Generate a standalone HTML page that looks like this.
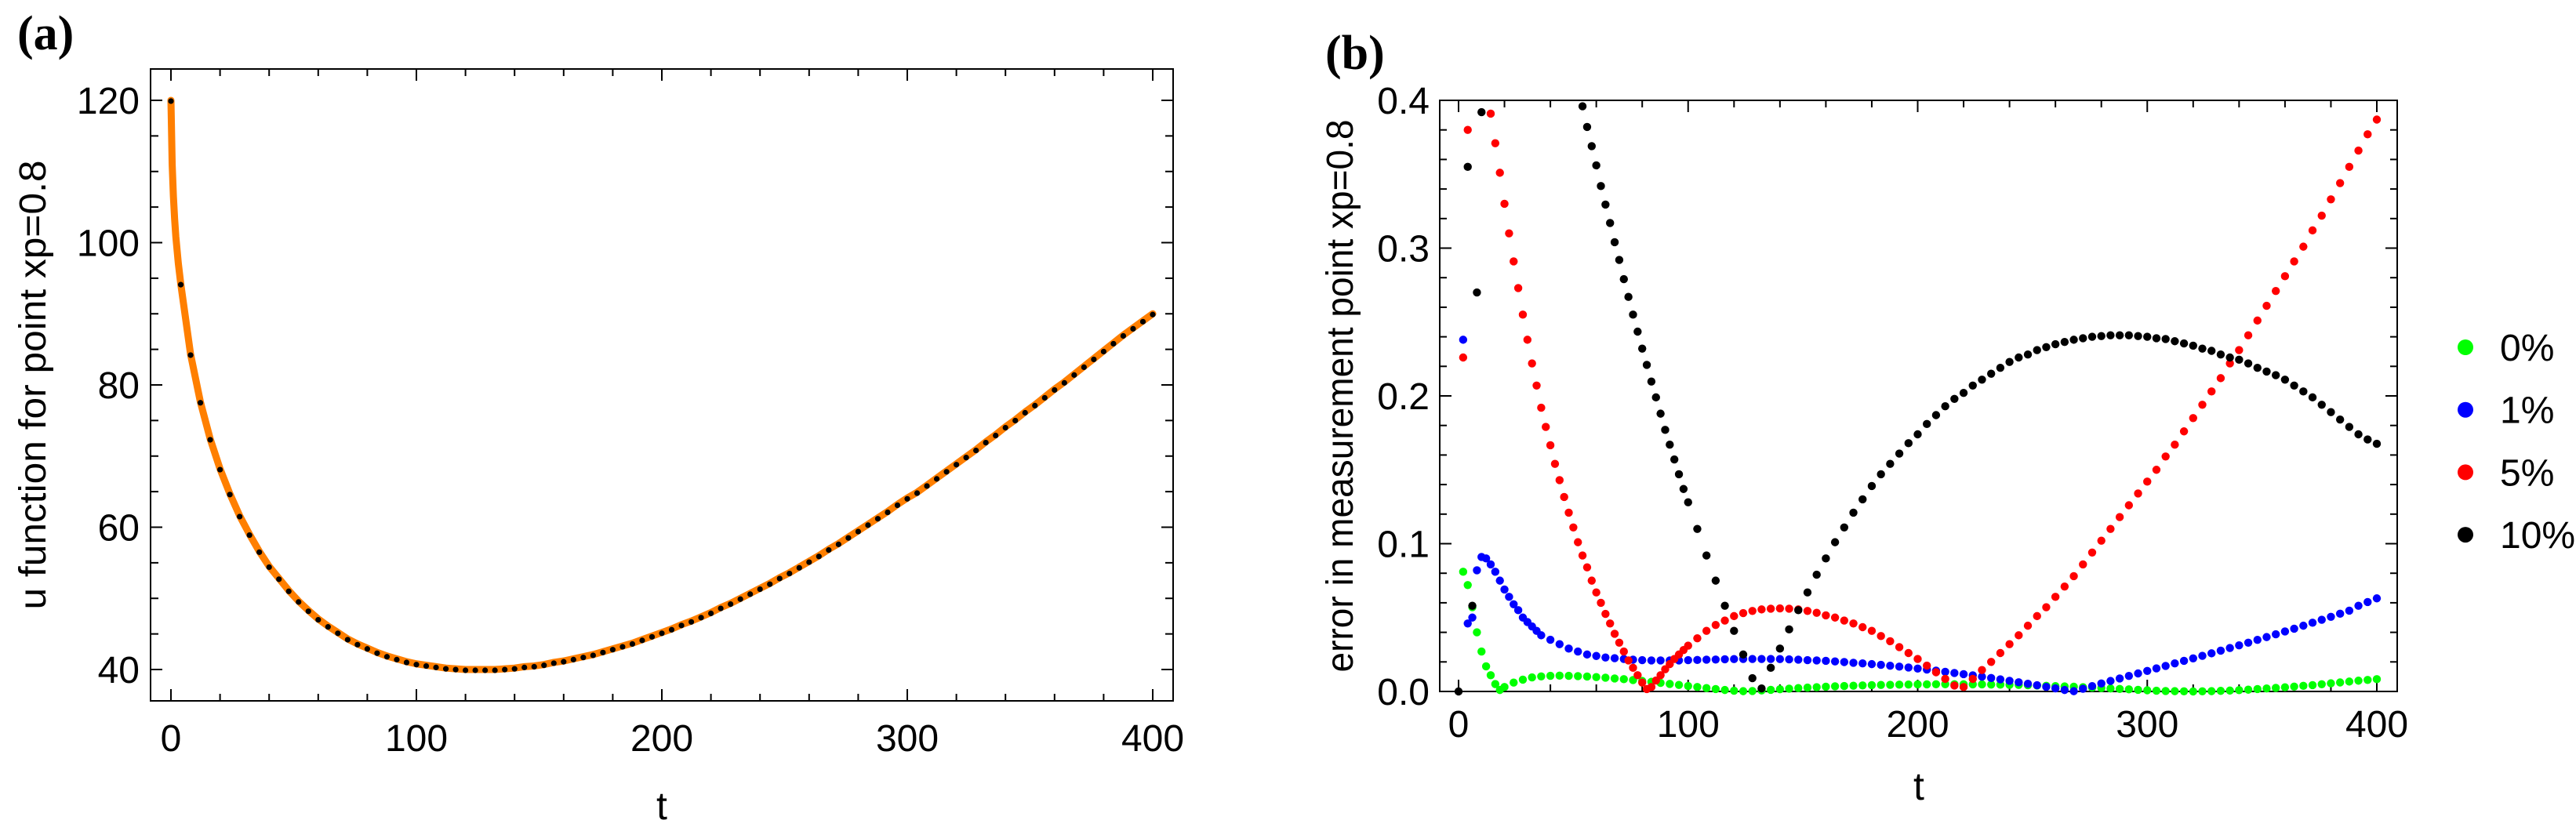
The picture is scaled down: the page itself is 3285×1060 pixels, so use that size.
<!DOCTYPE html>
<html><head><meta charset="utf-8">
<style>
html,body{margin:0;padding:0;background:#fff;}
svg{display:block;font-family:"Liberation Sans",sans-serif;}
</style></head>
<body>
<svg id="fig" width="3285" height="1060" viewBox="0 0 3285 1060" xmlns="http://www.w3.org/2000/svg">
<rect width="3285" height="1060" fill="#fff"/>
<text x="22" y="63" font-family="Liberation Serif, serif" font-weight="bold" font-size="62">(a)</text>
<text x="1690" y="88" font-family="Liberation Serif, serif" font-weight="bold" font-size="62">(b)</text>
<g id="pa"></g>
<g id="pb"></g>
</svg>
<script>
// ---------- Panel (a) data ----------
const tA = [0,4,8,12,16,20,24,28,32,36,40,44,48,52,56,60,64,68,72,76,80,84,88,92,96,100,104,108,112,116,120,124,128,132,136,140,144,148,152,156,160,164,168,172,176,180,184,188,192,196,200,204,208,212,216,220,224,228,232,236,240,244,248,252,256,260,264,268,272,276,280,284,288,292,296,300,304,308,312,316,320,324,328,332,336,340,344,348,352,356,360,364,368,372,376,380,384,388,392,396,400];
const uA = [120,94.2,84.3,77.6,72.4,68.2,64.7,61.6,59.0,56.6,54.5,52.8,51.1,49.6,48.3,47.1,46.1,45.2,44.3,43.6,43.0,42.4,41.9,41.5,41.1,40.8,40.6,40.4,40.2,40.1,40.0,40.0,40.0,40.0,40.1,40.2,40.4,40.5,40.7,41.0,41.2,41.5,41.8,42.1,42.5,42.9,43.3,43.7,44.2,44.7,45.2,45.7,46.3,46.8,47.4,48.0,48.7,49.3,50.0,50.7,51.4,52.1,52.9,53.6,54.4,55.2,56.0,56.9,57.7,58.6,59.5,60.4,61.3,62.2,63.2,64.1,64.9,65.9,66.9,67.9,68.9,69.9,70.9,72.0,73.0,74.1,75.1,76.2,77.2,78.3,79.4,80.4,81.5,82.6,83.7,84.8,85.9,87.0,88.0,89.0,90.0];
// exact-solution line has extra early samples (steep start)
const tLineEarly = [0,0.5,1,1.5,2,3];
const uLineEarly = [120,111,106.5,103.3,100.8,97.1];
const yTicksA = [40,60,80,100,120];
const xTicks = [0,100,200,300,400];

// ---------- Panel (b) data ----------
const tG = [2,4,6,8,10,12,14,16,18,20,24,28,32,36,40,44,48,52,56,60,64,68,72,76,80,84,88,92,96,100,104,108,112,116,120,124,128,132,136,140,144,148,152,156,160,164,168,172,176,180,184,188,192,196,200,204,208,212,216,220,224,228,232,236,240,244,248,252,256,260,264,268,272,276,280,284,288,292,296,300,304,308,312,316,320,324,328,332,336,340,344,348,352,356,360,364,368,372,376,380,384,388,392,396,400];
const vG = [0.081,0.072,0.057,0.040,0.027,0.017,0.011,0.005,0.001,0.003,0.006,0.008,0.0095,0.0102,0.0106,0.0107,0.0106,0.0104,0.0101,0.0097,0.0093,0.0088,0.0083,0.0077,0.0071,0.0065,0.0058,0.0051,0.0044,0.0037,0.0030,0.0023,0.0016,0.0010,0.0005,0.0002,0.0003,0.0007,0.0011,0.0015,0.0019,0.0023,0.0026,0.0029,0.0032,0.0035,0.0037,0.0039,0.0041,0.0043,0.0044,0.0045,0.0046,0.0047,0.0048,0.0048,0.0049,0.0049,0.0049,0.0049,0.0048,0.0048,0.0047,0.0046,0.0045,0.0044,0.0042,0.0040,0.0038,0.0036,0.0034,0.0032,0.0029,0.0026,0.0023,0.0020,0.0017,0.0014,0.0011,0.0008,0.0005,0.0003,0.0002,0.0001,0.0000,0.0001,0.0002,0.0004,0.0006,0.0009,0.0012,0.0016,0.0020,0.0024,0.0028,0.0033,0.0038,0.0043,0.0049,0.0055,0.0061,0.0067,0.0073,0.0078,0.0083];

const tB = [2,4,6,8,10,12,14,16,18,20,22,24,26,28,30,32,34,36,40,44,48,52,56,60,64,68,72,76,80,84,88,92,96,100,104,108,112,116,120,124,128,132,136,140,144,148,152,156,160,164,168,172,176,180,184,188,192,196,200,204,208,212,216,220,224,228,232,236,240,244,248,252,256,260,264,268,272,276,280,284,288,292,296,300,304,308,312,316,320,324,328,332,336,340,344,348,352,356,360,364,368,372,376,380,384,388,392,396,400];
const vB = [0.238,0.046,0.050,0.082,0.091,0.090,0.086,0.081,0.075,0.069,0.064,0.059,0.055,0.050,0.047,0.044,0.041,0.038,0.035,0.032,0.029,0.027,0.025,0.024,0.023,0.0225,0.022,0.0215,0.0212,0.021,0.021,0.021,0.021,0.0212,0.0213,0.0215,0.0216,0.0218,0.0219,0.022,0.022,0.022,0.022,0.0219,0.0217,0.0215,0.0212,0.021,0.0207,0.0203,0.0199,0.0194,0.019,0.0185,0.018,0.0174,0.0168,0.0162,0.0155,0.0148,0.0141,0.0133,0.0125,0.0117,0.0109,0.010,0.0091,0.0082,0.0072,0.0062,0.0052,0.0042,0.0031,0.0021,0.001,0.0002,0.0018,0.0036,0.0054,0.0071,0.0088,0.0105,0.0122,0.0139,0.0156,0.0173,0.019,0.0207,0.0224,0.0241,0.0258,0.0276,0.0294,0.0312,0.033,0.0349,0.0368,0.0387,0.0406,0.0425,0.0445,0.0465,0.0485,0.0505,0.0526,0.0547,0.058,0.0605,0.063];

const tR = [2,4,14,16,18,20,22,24,26,28,30,32,34,36,38,40,42,44,46,48,50,52,54,56,58,60,62,64,66,68,70,72,74,76,78,80,82,84,86,88,90,92,94,96,98,100,104,108,112,116,120,124,128,132,136,140,144,148,152,156,160,164,168,172,176,180,184,188,192,196,200,204,208,212,216,220,224,228,232,236,240,244,248,252,256,260,264,268,272,276,280,284,288,292,296,300,304,308,312,316,320,324,328,332,336,340,344,348,352,356,360,364,368,372,376,380,384,388,392,396,400];
const vR = [0.226,0.380,0.391,0.371,0.351,0.330,0.310,0.291,0.273,0.255,0.238,0.222,0.207,0.192,0.179,0.1666,0.154,0.143,0.1316,0.121,0.111,0.101,0.092,0.084,0.075,0.067,0.060,0.0525,0.046,0.039,0.033,0.027,0.021,0.016,0.011,0.006,0.0016,0.003,0.0074,0.011,0.015,0.0185,0.022,0.025,0.028,0.031,0.036,0.041,0.045,0.048,0.051,0.053,0.0545,0.0555,0.056,0.0562,0.056,0.0555,0.0545,0.0532,0.0515,0.050,0.048,0.046,0.0435,0.041,0.0375,0.034,0.030,0.026,0.022,0.0175,0.013,0.0085,0.004,0.003,0.0085,0.0145,0.020,0.026,0.032,0.038,0.0445,0.051,0.057,0.064,0.071,0.078,0.086,0.094,0.102,0.110,0.118,0.126,0.134,0.142,0.150,0.159,0.167,0.176,0.185,0.194,0.203,0.212,0.222,0.231,0.241,0.251,0.261,0.271,0.281,0.291,0.301,0.312,0.322,0.333,0.344,0.355,0.366,0.377,0.387];

const tK = [0,4,6,8,10,54,56,58,60,62,64,66,68,70,72,74,76,78,80,82,84,86,88,90,92,94,96,98,100,104,108,112,116,120,124,128,132,136,140,144,148,152,156,160,164,168,172,176,180,184,188,192,196,200,204,208,212,216,220,224,228,232,236,240,244,248,252,256,260,264,268,272,276,280,284,288,292,296,300,304,308,312,316,320,324,328,332,336,340,344,348,352,356,360,364,368,372,376,380,384,388,392,396,400];
const vK = [0,0.355,0.058,0.270,0.392,0.396,0.382,0.369,0.356,0.342,0.3295,0.317,0.304,0.292,0.279,0.267,0.255,0.2435,0.232,0.221,0.2097,0.199,0.188,0.177,0.167,0.157,0.147,0.137,0.128,0.110,0.092,0.075,0.058,0.041,0.025,0.009,0.002,0.016,0.029,0.042,0.055,0.067,0.079,0.090,0.101,0.111,0.121,0.130,0.139,0.147,0.154,0.161,0.168,0.174,0.181,0.187,0.193,0.198,0.202,0.207,0.211,0.215,0.219,0.223,0.226,0.228,0.231,0.233,0.235,0.2365,0.238,0.239,0.240,0.2405,0.241,0.241,0.241,0.2405,0.240,0.239,0.2385,0.237,0.2355,0.234,0.232,0.2305,0.228,0.226,0.2245,0.222,0.219,0.2165,0.214,0.211,0.207,0.203,0.199,0.194,0.189,0.184,0.179,0.174,0.1705,0.1676];

const yTicksB = [0.0,0.1,0.2,0.3,0.4];
const yTickLabelsB = ["0.0","0.1","0.2","0.3","0.4"];
const legendLabels = ["0%","1%","5%","10%"];
const legendColors = ["#00ff00","#0000ff","#ff0000","#000000"];

// ---------- helpers ----------
const NS = "http://www.w3.org/2000/svg";
function mk(tag, attrs, parent){
  const e = document.createElementNS(NS, tag);
  for (const k in attrs) e.setAttribute(k, attrs[k]);
  parent.appendChild(e);
  return e;
}

// ---------- Panel (a) ----------
const pa = document.getElementById('pa');
const A = {l:192, r:1496, t:88, b:894};
const xA = t => 218 + (t/400)*(1470-218);
const yA = u => 854 - (u-40)*(854-128)/80;

const frameA = mk('rect', {x:A.l, y:A.t, width:A.r-A.l, height:A.b-A.t, fill:'none', stroke:'#000', 'stroke-width':2}, pa);



for (let u=35; u<=125; u+=5){
  const y = yA(u); if (y < A.t || y > A.b) continue;
  const len = (u % 20 === 0) ? 15 : 10;
  const tk1 = mk('line', {x1:A.l, x2:A.l+len, y1:y, y2:y, stroke:'#000', 'stroke-width':2}, pa);
  
  
  const tk2 = mk('line', {x1:A.r, x2:A.r-len, y1:y, y2:y, stroke:'#000', 'stroke-width':2}, pa);
  
  
}
yTicksA.forEach(u => {
  const tx = mk('text', {x:178, y:yA(u)+17, 'text-anchor':'end', 'font-size':48}, pa);
  tx.textContent = u;
  
  
});
for (let t=0; t<=400; t+=20){
  const x = xA(t);
  const len = (t % 100 === 0) ? 15 : 9;
  const tk1 = mk('line', {x1:x, x2:x, y1:A.b, y2:A.b-len, stroke:'#000', 'stroke-width':2}, pa);
  
  
  const tk2 = mk('line', {x1:x, x2:x, y1:A.t, y2:A.t+len, stroke:'#000', 'stroke-width':2}, pa);
  
  
}
xTicks.forEach(t => {
  const tx = mk('text', {x:xA(t), y:958, 'text-anchor':'middle', 'font-size':48}, pa);
  tx.textContent = t;
  
  
});
const xtA = mk('text', {x:844, y:1045, 'text-anchor':'middle', 'font-size':50}, pa);
xtA.textContent = 't';


const ytA = mk('text', {x:0, y:0, 'text-anchor':'middle', 'font-size':48, transform:'translate(58,491) rotate(-90)', textLength:573, lengthAdjust:'spacingAndGlyphs'}, pa);
ytA.textContent = 'u function for point xp=0.8';



const lineT = tLineEarly.concat(tA.slice(1));
const lineU = uLineEarly.concat(uA.slice(1));
const lineA = mk('polyline', {points: lineT.map((t,i)=>xA(t)+','+yA(lineU[i])).join(' '), fill:'none', stroke:'#ff7f00', 'stroke-width':9, 'stroke-linejoin':'round', 'stroke-linecap':'round'}, pa);


tA.forEach((t,i) => {
  const c = mk('circle', {cx:xA(t), cy:yA(uA[i])+1, r:3.6, fill:'#000'}, pa);
  
  
});

// ---------- Panel (b) ----------
const pb = document.getElementById('pb');
const B = {l:1836, r:3057, t:128, b:882};
const xB = t => 1860 + (t/400)*(3031-1860);
const yB = v => 882 - v*(882-128)/0.4;

const frameB = mk('rect', {x:B.l, y:B.t, width:B.r-B.l, height:B.b-B.t, fill:'none', stroke:'#000', 'stroke-width':2}, pb);



for (let k=0; k<=20; k++){
  const y = yB(k*0.02);
  const len = (k % 5 === 0) ? 15 : 9;
  const tk1 = mk('line', {x1:B.l, x2:B.l+len, y1:y, y2:y, stroke:'#000', 'stroke-width':2}, pb);
  
  
  const tk2 = mk('line', {x1:B.r, x2:B.r-len, y1:y, y2:y, stroke:'#000', 'stroke-width':2}, pb);
  
  
}
yTicksB.forEach((v,i) => {
  const tx = mk('text', {x:1823, y:yB(v)+17, 'text-anchor':'end', 'font-size':48}, pb);
  tx.textContent = yTickLabelsB[i];
  
  
});
for (let t=0; t<=400; t+=20){
  const x = xB(t);
  const len = (t % 100 === 0) ? 15 : 9;
  const tk1 = mk('line', {x1:x, x2:x, y1:B.b, y2:B.b-len, stroke:'#000', 'stroke-width':2}, pb);
  
  
  const tk2 = mk('line', {x1:x, x2:x, y1:B.t, y2:B.t+len, stroke:'#000', 'stroke-width':2}, pb);
  
  
}
xTicks.forEach(t => {
  const tx = mk('text', {x:xB(t), y:940, 'text-anchor':'middle', 'font-size':48}, pb);
  tx.textContent = t;
  
  
});
const xtB = mk('text', {x:2447, y:1020, 'text-anchor':'middle', 'font-size':50}, pb);
xtB.textContent = 't';


const ytB = mk('text', {x:0, y:0, 'text-anchor':'middle', 'font-size':48, transform:'translate(1725,505) rotate(-90)', textLength:705, lengthAdjust:'spacingAndGlyphs'}, pb);
ytB.textContent = 'error in measurement point xp=0.8';



const seriesT = [tG, tB, tR, tK];
const seriesV = [vG, vB, vR, vK];
const seriesNames = ['series-0pct', 'series-1pct', 'series-5pct', 'series-10pct'];
seriesT.forEach((ts, s) => {
  const g = mk('g', {}, pb);
  
  
  ts.forEach((t,i) => {
    const v = seriesV[s][i];
    if (v > 0.4 || v < 0) return;
    const c = mk('circle', {cx:xB(t), cy:yB(v), r:5.2, fill:legendColors[s]}, g);
    
    
  });
});

legendLabels.forEach((lab, i) => {
  const cy = 443 + i*79.7;
  const g = mk('g', {}, pb);
  
  
  const c = mk('circle', {cx:3144, cy:cy, r:10, fill:legendColors[i]}, g);
  
  
  const tx = mk('text', {x:3188, y:cy+17, 'font-size':48}, g);
  tx.textContent = lab;
  
  
});
</script>
</body></html>
